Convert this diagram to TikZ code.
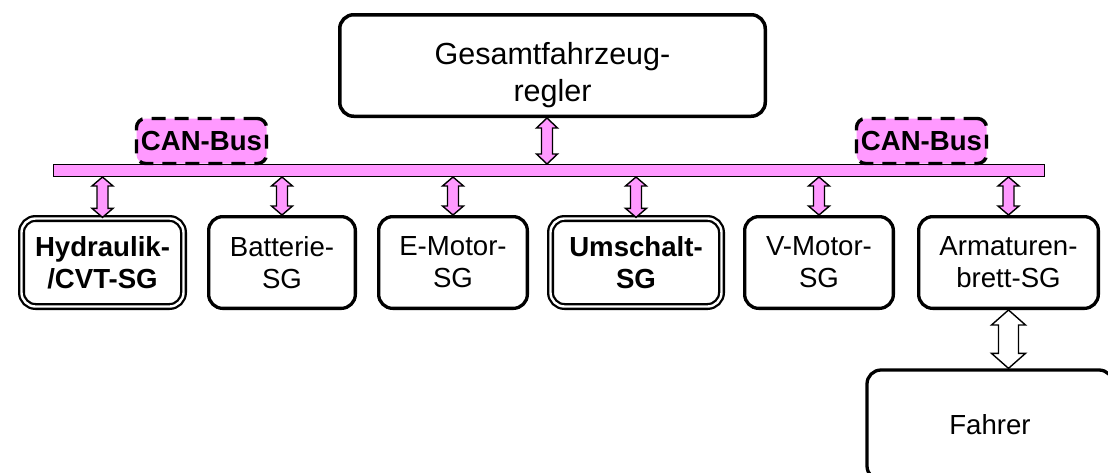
\documentclass[tikz,border=0pt]{standalone}
\usepackage{fontspec}
\setmainfont{Liberation Sans}
\usetikzlibrary{calc}
\definecolor{buspink}{RGB}{255,153,255}

% Vertical double-headed block arrow between an upper and a lower point.
% #1 upper end, #2 lower end, #3 shaft half width, #4 head half width,
% #5 head length, #6 drawing style
\newcommand{\blockarrow}[6]{%
  \path[#6] let \p1=#1, \p2=#2 in
    (\x1,\y1) -- (\x1+#4,\y1-#5) -- (\x1+#3,\y1-#5) -- (\x1+#3,\y2+#5)
    -- (\x1+#4,\y2+#5) -- (\x1,\y2) -- (\x1-#4,\y2+#5) -- (\x1-#3,\y2+#5)
    -- (\x1-#3,\y1-#5) -- (\x1-#4,\y1-#5) -- cycle;}

\tikzset{
  unit/.style={draw, line width=3.3pt, rounded corners=14pt, minimum height=91.7pt,
    align=center, inner sep=0pt, font=\fontsize{27.6}{32}\selectfont},
  dblunit/.style={unit, line width=2.3pt, double, double distance=2.4pt,
    minimum height=88pt, font=\bfseries\fontsize{27.6}{32}\selectfont},
  busbar/.style={draw, fill=buspink, line width=1.4pt, inner sep=0pt},
  canbox/.style={draw, fill=buspink, line width=3.4pt, dash pattern=on 14pt off 9pt,
    rounded corners=9pt, minimum width=130pt, minimum height=45pt, inner sep=0pt,
    font=\bfseries\fontsize{27.6}{32}\selectfont},
  pinkarrow/.style={fill=buspink, draw=black, line width=1.4pt},
  whitearrow/.style={fill=white, draw=black, line width=1.4pt},
}

\begin{document}
\begin{tikzpicture}[x=1pt, y=-1pt]
  \useasboundingbox (0,0) rectangle (1108,472);

  % central controller
  \node[unit, line width=3.5pt, minimum width=425.5pt, minimum height=101.5pt,
    label={[align=center, font=\fontsize{30.5}{37}\selectfont, yshift=-10pt]center:Gesamtfahrzeug-\\regler}]
    (gfr) at (552.5,65.5) {};

  % bus bar and its labels
  \node[busbar, minimum width=990.6pt, minimum height=11.6pt] (bus) at (549,170.5) {};
  \node[canbox] (canl) at (201.5,141) {CAN-Bus};
  \node[canbox] (canr) at (921.5,141) {CAN-Bus};

  % control units on the bus
  \node[dblunit, minimum width=162pt]   (hyd) at (102.5,262.5) {Hydraulik-\\/CVT-SG};
  \node[unit,    minimum width=146.7pt] (bat) at (282,262.5)   {Batterie-\\SG};
  \node[unit,    minimum width=148.7pt] (emo) at (453,262.5)   {E-Motor-\\SG};
  \node[dblunit, minimum width=171pt]   (ums) at (636,262.5)   {Umschalt-\\SG};
  \node[unit,    minimum width=148.7pt] (vmo) at (819,262.5)   {V-Motor-\\SG};
  \node[unit,    minimum width=179.7pt] (arm) at (1008.5,262.5) {Armaturen-\\brett-SG};

  % driver
  \node[unit, minimum width=246pt, minimum height=110pt] (fah) at (990,425) {Fahrer};

  % connections
  \coordinate (gtop) at ([xshift=-5.5pt]gfr.south);
  \blockarrow{(gtop)}{(gtop |- bus.north)}{5.5pt}{10.5pt}{10pt}{pinkarrow}
  \foreach \u in {hyd,bat,emo,ums,vmo,arm}{
    \blockarrow{(bus.south -| \u.north)}{(\u.north)}{5.5pt}{10.5pt}{9pt}{pinkarrow}
  }
  \blockarrow{(arm.south)}{(arm.south |- fah.north)}{10pt}{17pt}{15pt}{whitearrow}
\end{tikzpicture}
\end{document}
